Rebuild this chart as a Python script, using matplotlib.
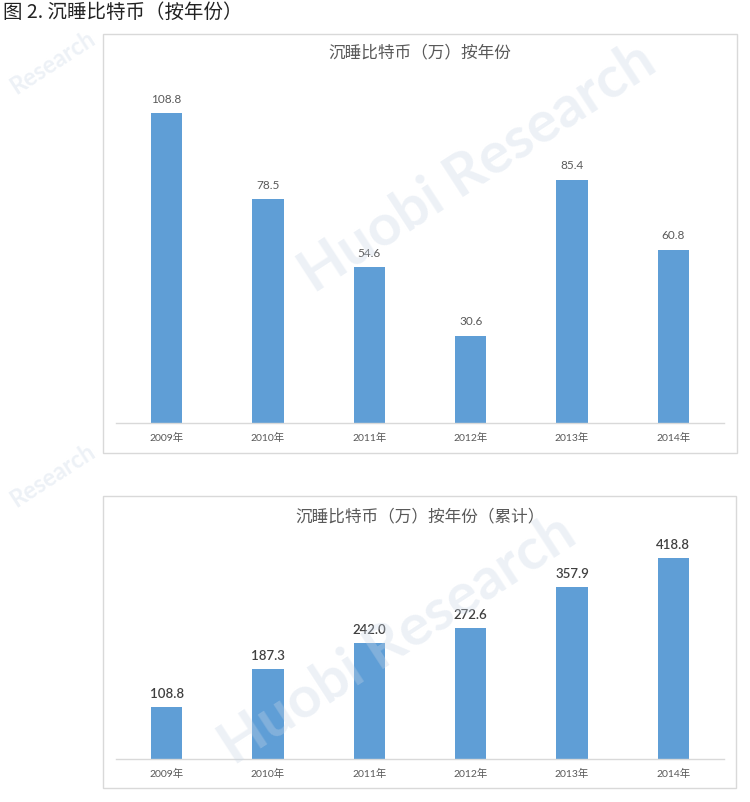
import matplotlib
matplotlib.use("Agg")
import matplotlib.pyplot as plt
from matplotlib.patches import Rectangle

plt.rcParams['font.family'] = ['Noto Sans CJK SC', 'DejaVu Sans']

# ---- data ----
years = ["2009年", "2010年", "2011年", "2012年", "2013年", "2014年"]
dormant = [108.8, 78.5, 54.6, 30.6, 85.4, 60.8]
dormant_cum = [108.8, 187.3, 242.0, 272.6, 357.9, 418.8]

caption = "图 2. 沉睡比特币（按年份）"
title_top = "沉睡比特币（万）按年份"
title_bottom = "沉睡比特币（万）按年份（累计）"

BAR = "#5F9ED6"
GRID = "#D9D9D9"
TXT = "#595959"

W, H = 750, 802
fig = plt.figure(figsize=(W / 100, H / 100), dpi=100)
fig.patch.set_facecolor("white")


def fx(x):
    return x / W


def fy(y):
    return 1 - y / H


def box(x0, y0, x1, y1):
    fig.patches.append(Rectangle((fx(x0), fy(y1)), fx(x1) - fx(x0), fy(y0) - fy(y1),
                                 transform=fig.transFigure, facecolor="white",
                                 edgecolor=GRID, linewidth=1.0, zorder=-5))


box(103, 34, 737, 453)
box(103, 496, 736, 788)

fig.text(fx(3), fy(12), caption, fontsize=14, color="#222222", ha="left", va="center")


def make_axes(left, top, right, bottom, values, ymax, lab_size, lab_color, lab_off, lab_weight):
    ax = fig.add_axes([fx(left), fy(bottom), fx(right) - fx(left), fy(top) - fy(bottom)])
    ax.set_zorder(1)
    ax.patch.set_alpha(0)
    x = list(range(len(values)))
    ax.bar(x, values, width=0.306, color=BAR, zorder=2)
    ax.set_xlim(-0.5, len(values) - 0.5)
    ax.set_ylim(0, ymax)
    for s in ("top", "left", "right"):
        ax.spines[s].set_visible(False)
    ax.spines["bottom"].set_color(GRID)
    ax.spines["bottom"].set_linewidth(1.0)
    ax.set_yticks([])
    ax.set_xticks(x)
    ax.set_xticklabels(years, fontsize=7.5, color=TXT, family=['Lato', 'Noto Sans CJK SC'])
    ax.tick_params(axis="x", length=0, pad=7)
    for xi, v in zip(x, values):
        ax.annotate(f"{v:.1f}", (xi, v), xytext=(0, lab_off), textcoords="offset points",
                    ha="center", va="center", fontsize=lab_size, color=lab_color,
                    family=['Lato', 'Noto Sans CJK SC'], fontweight=lab_weight)
    return ax


make_axes(116, 81, 724, 423, dormant, 120, 8.5, TXT, 10, "normal")
make_axes(116, 543, 724, 759, dormant_cum, 450, 9.5, "#404040", 9.5, "semibold")

fig.text(fx(420), fy(53), title_top, fontsize=12, color=TXT, ha="center", va="center")
fig.text(fx(420), fy(517), title_bottom, fontsize=12, color=TXT, ha="center", va="center")

# ---- faint watermarks ----
wm = dict(color="#C9D6E6", alpha=0.33, fontweight="bold", ha="center", va="center",
          rotation=33, family=['Lato', 'DejaVu Sans'], zorder=10)
fig.text(fx(478), fy(168), "Huobi Research", fontsize=42, **wm)
fig.text(fx(398), fy(640), "Huobi Research", fontsize=42, **wm)
fig.text(fx(52), fy(62), "Research", fontsize=17, **wm)
fig.text(fx(52), fy(475), "Research", fontsize=17, **wm)

fig.savefig("out.png", dpi=100, facecolor="white")
